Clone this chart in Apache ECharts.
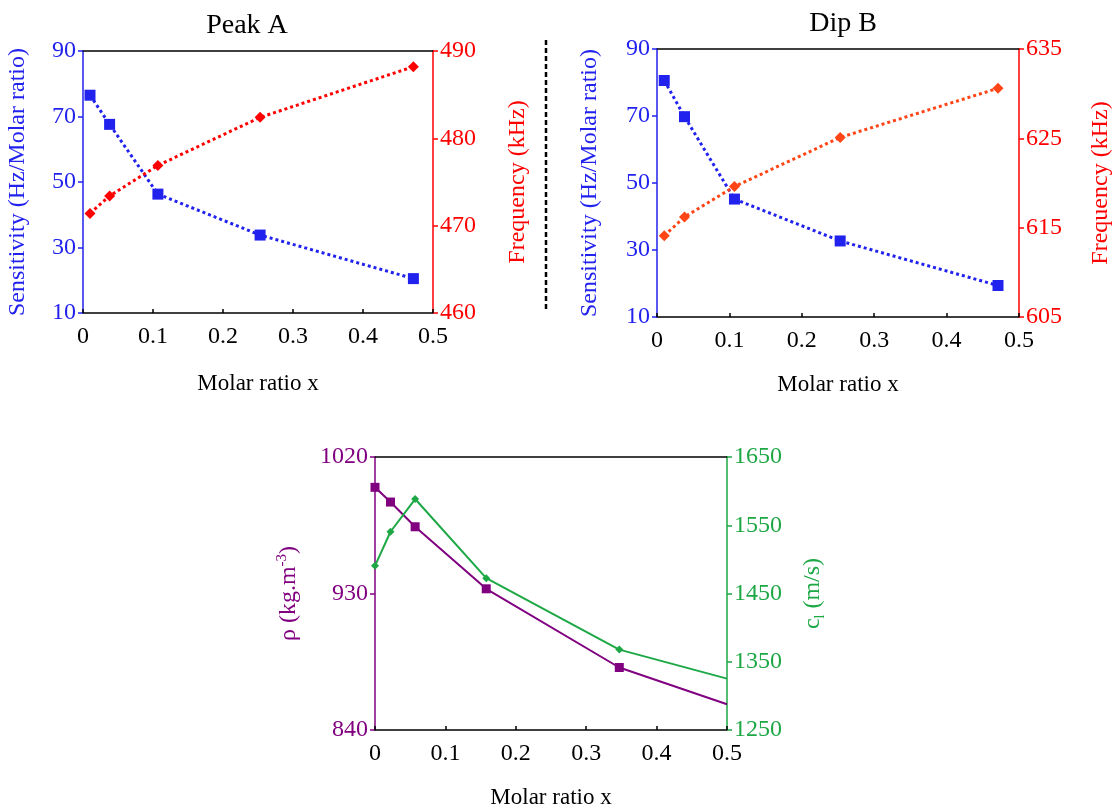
<!DOCTYPE html>
<html>
<head>
<meta charset="utf-8">
<script src="https://cdn.jsdelivr.net/npm/echarts@6/dist/echarts.min.js"></script>
<style>
  html, body { margin: 0; padding: 0; background: #fff; }
  #chart { width: 1117px; height: 812px; }
</style>
</head>
<body>
<div id="chart"></div>
<script>
// Peak A: sensitivity and resonance frequency vs molar ratio
const xPeakA = [0.010, 0.038, 0.107, 0.253, 0.472];
const sensPeakA = [76.5, 67.6, 46.3, 33.8, 20.5];
const freqPeakA = [471.4, 473.4, 476.9, 482.4, 488.2];

// Dip B: sensitivity and resonance frequency vs molar ratio
const xDipB = [0.010, 0.038, 0.107, 0.253, 0.471];
const sensDipB = [80.6, 69.8, 45.2, 32.7, 19.4];
const freqDipB = [614.1, 616.2, 619.6, 625.1, 630.6];

// Mixture properties: density and longitudinal sound speed
const xMix = [0, 0.022, 0.057, 0.158, 0.347, 0.5];
const density = [1000, 990.3, 974, 933.1, 881.2, 857];
const soundSpeed = [1490.6, 1540.5, 1588.4, 1472.5, 1367.8, 1325.3];

const FONT = 'Liberation Serif, Times New Roman, serif';
const TICK_SIZE = 24;
const NAME_SIZE = 24;
const BLUE = '#2222EE';
const RED = '#FF0000';
const ORANGE = '#FF4515';
const PURPLE = '#800080';
const GREEN = '#1DA845';

const pairs = (xs, ys, lastBare) => xs.map((x, i) => {
  const item = { value: [x, ys[i]] };
  if (lastBare && i === xs.length - 1) item.symbol = 'none';
  return item;
});

function bottomAxis(gridIndex, gap) {
  return {
    type: 'value', gridIndex, position: 'bottom',
    min: 0, max: 0.5, interval: 0.1,
    name: 'Molar ratio x', nameLocation: 'middle', nameGap: gap,
    nameTextStyle: { fontFamily: FONT, fontSize: 23, color: '#000' },
    axisLine: { show: true, onZero: false, lineStyle: { color: '#000', width: 1.5 } },
    axisTick: { show: true, inside: true, length: 4, lineStyle: { color: '#000', width: 1.5 } },
    axisLabel: { margin: 12, fontFamily: FONT, fontSize: TICK_SIZE, color: '#000',
      formatter: v => String(+v.toFixed(1)) },
    splitLine: { show: false }
  };
}
function topBorder(gridIndex) {
  return {
    type: 'value', gridIndex, position: 'top', min: 0, max: 0.5,
    axisLine: { show: true, onZero: false, lineStyle: { color: '#000', width: 1.5 } },
    axisTick: { show: false }, axisLabel: { show: false }, splitLine: { show: false }
  };
}
function yAxis(gridIndex, pos, min, max, interval, color, name, gap, rich) {
  const ax = {
    type: 'value', gridIndex, position: pos, min, max, interval,
    name, nameLocation: 'middle', nameRotate: 90, nameGap: gap,
    nameTextStyle: { fontFamily: FONT, fontSize: NAME_SIZE, color },
    axisLine: { show: true, onZero: false, lineStyle: { color, width: 1.5 } },
    axisTick: { show: true, inside: false, length: 5, lineStyle: { color, width: 1.5 } },
    axisLabel: { margin: 7, fontFamily: FONT, fontSize: TICK_SIZE, color,
      formatter: v => String(v) },
    splitLine: { show: false }
  };
  if (rich) ax.nameTextStyle.rich = rich;
  return ax;
}
function dottedSeries(name, xi, yi, xs, ys, color, symbol, size) {
  return {
    name, type: 'line', xAxisIndex: xi, yAxisIndex: yi,
    data: pairs(xs, ys, false),
    symbol, symbolSize: size,
    itemStyle: { color },
    lineStyle: { color, width: 3, type: [3, 3] },
    animation: false
  };
}
function solidSeries(name, xi, yi, xs, ys, color, symbol, size) {
  return {
    name, type: 'line', xAxisIndex: xi, yAxisIndex: yi,
    data: pairs(xs, ys, true),
    symbol, symbolSize: size,
    itemStyle: { color },
    lineStyle: { color, width: 2 },
    animation: false
  };
}

const chart = echarts.init(document.getElementById('chart'), null, { renderer: 'canvas' });
chart.setOption({
  backgroundColor: '#fff',
  animation: false,
  title: [
    { text: 'Peak A', left: 242, top: 7, textAlign: 'center',
      textStyle: { fontFamily: FONT, fontSize: 28, fontWeight: 'normal', color: '#000' } },
    { text: 'Dip B', left: 838, top: 5, textAlign: 'center',
      textStyle: { fontFamily: FONT, fontSize: 28, fontWeight: 'normal', color: '#000' } }
  ],
  grid: [
    { left: 83, top: 51, width: 350, height: 262 },
    { left: 657, top: 49, width: 362, height: 268 },
    { left: 375, top: 457, width: 352, height: 273 }
  ],
  xAxis: [
    bottomAxis(0, 59), bottomAxis(1, 56), bottomAxis(2, 56),
    topBorder(0), topBorder(1), topBorder(2)
  ],
  yAxis: [
    yAxis(0, 'left', 10, 90, 20, BLUE, 'Sensitivity (Hz/Molar ratio)', 53),
    yAxis(0, 'right', 460, 490, 10, RED, 'Frequency (kHz)', 73),
    yAxis(1, 'left', 10, 90, 20, BLUE, 'Sensitivity (Hz/Molar ratio)', 55),
    yAxis(1, 'right', 605, 635, 10, RED, 'Frequency (kHz)', 70),
    yAxis(2, 'left', 840, 1020, 90, PURPLE, '{t|ρ (kg.m}{sup|-3}{t|)}', 72,
      { t: { fontFamily: FONT, fontSize: NAME_SIZE, color: PURPLE, lineHeight: 28 },
        sup: { fontFamily: FONT, fontSize: 15, color: PURPLE, verticalAlign: 'top', lineHeight: 28 } }),
    yAxis(2, 'right', 1250, 1650, 100, GREEN, '{t|c}{sub|l}{t| (m/s)}', 72,
      { t: { fontFamily: FONT, fontSize: NAME_SIZE, color: GREEN, lineHeight: 28 },
        sub: { fontFamily: FONT, fontSize: 14, color: GREEN, verticalAlign: 'bottom', lineHeight: 28 } })
  ],
  series: [
    dottedSeries('Sensitivity A', 0, 0, xPeakA, sensPeakA, BLUE, 'rect', 11),
    dottedSeries('Frequency A', 0, 1, xPeakA, freqPeakA, RED, 'diamond', 11),
    dottedSeries('Sensitivity B', 1, 2, xDipB, sensDipB, BLUE, 'rect', 11),
    dottedSeries('Frequency B', 1, 3, xDipB, freqDipB, ORANGE, 'diamond', 11),
    solidSeries('Density', 2, 4, xMix, density, PURPLE, 'rect', 9),
    solidSeries('Sound speed', 2, 5, xMix, soundSpeed, GREEN, 'diamond', 8)
  ],
  graphic: [
    { type: 'line', shape: { x1: 546, y1: 40, x2: 546, y2: 310 },
      style: { stroke: '#000', lineWidth: 2.5, lineDash: [5, 3] } }
  ]
});
</script>
</body>
</html>
